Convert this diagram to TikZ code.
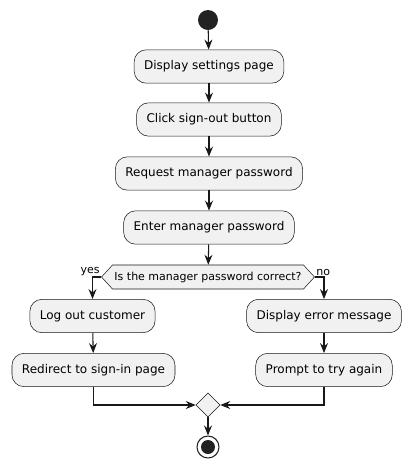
\documentclass[tikz,border=0pt]{standalone}
\usepackage{fontspec}
\setmainfont{DejaVu Sans}
\usetikzlibrary{arrows.meta,shapes.geometric,shapes.symbols}
\definecolor{umlfill}{RGB}{241,241,241}
\definecolor{umlline}{RGB}{24,24,24}
\definecolor{umldot}{RGB}{34,34,34}

\begin{document}
\begin{tikzpicture}[x=0.75pt,y=-0.75pt,
  act/.style={draw=umlline,fill=umlfill,line width=0.4pt,rounded corners=9pt,
    minimum height=25pt,inner xsep=7.5pt,font=\fontsize{9}{11}\selectfont},
  check/.style={signal,signal to=west and east,signal pointer angle=95,
    draw=umlline,fill=umlfill,line width=0.4pt,minimum height=18pt,inner xsep=1.5pt,
    inner ysep=2pt,font=\fontsize{8.25}{10}\selectfont},
  tag/.style={inner sep=1pt,font=\fontsize{8.25}{10}\selectfont},
  flow/.style={umlline,line width=0.8pt,-{Stealth[length=7.5pt,width=6pt,inset=2.5pt]}}]
  \useasboundingbox (0,0) rectangle (412,469);
  % start and steps
  \node[circle,fill=umldot,minimum size=15pt,inner sep=0pt] (start) at (208,20) {};
  \node[act] (settings) at (209,66.5) {Display settings page};
  \node[act] (signout) at (209,119.5) {Click sign-out button};
  \node[act] (request) at (209,173.5) {Request manager password};
  \node[act] (enter) at (209,227.5) {Enter manager password};
  \node[check] (check) at (208,277) {Is the manager password correct?};
  \node[tag,anchor=south east] (yes) at (check.west) {yes};
  \node[tag,anchor=south west] (no) at (check.east) {no};
  % branches
  \node[act] (logout) at (92.5,316) {Log out customer};
  \node[act] (redirect) at (93.5,370) {Redirect to sign-in page};
  \node[act] (error) at (324,316) {Display error message};
  \node[act] (retry) at (324,370) {Prompt to try again};
  \node[diamond,draw=umlline,fill=umlfill,line width=0.4pt,minimum size=18pt,inner sep=0pt] (merge) at (208,405) {};
  \node[circle,draw=umldot,line width=0.8pt,minimum size=16.5pt,inner sep=0pt,
    path picture={\fill[umldot] (path picture bounding box.center) circle (5.25pt);}] (stop) at (208,447) {};
  % flows
  \draw[flow] (start) -- (settings);
  \draw[flow] (settings) -- (signout);
  \draw[flow] (signout) -- (request);
  \draw[flow] (request) -- (enter);
  \draw[flow] (enter) -- (check);
  \draw[flow] (check.west) -| (logout);
  \draw[flow] (check.east) -| (error);
  \draw[flow] (logout) -- (redirect);
  \draw[flow] (error) -- (retry);
  \draw[flow] (redirect) |- (merge);
  \draw[flow] (retry) |- (merge);
  \draw[flow] (merge) -- (stop);
\end{tikzpicture}
\end{document}
